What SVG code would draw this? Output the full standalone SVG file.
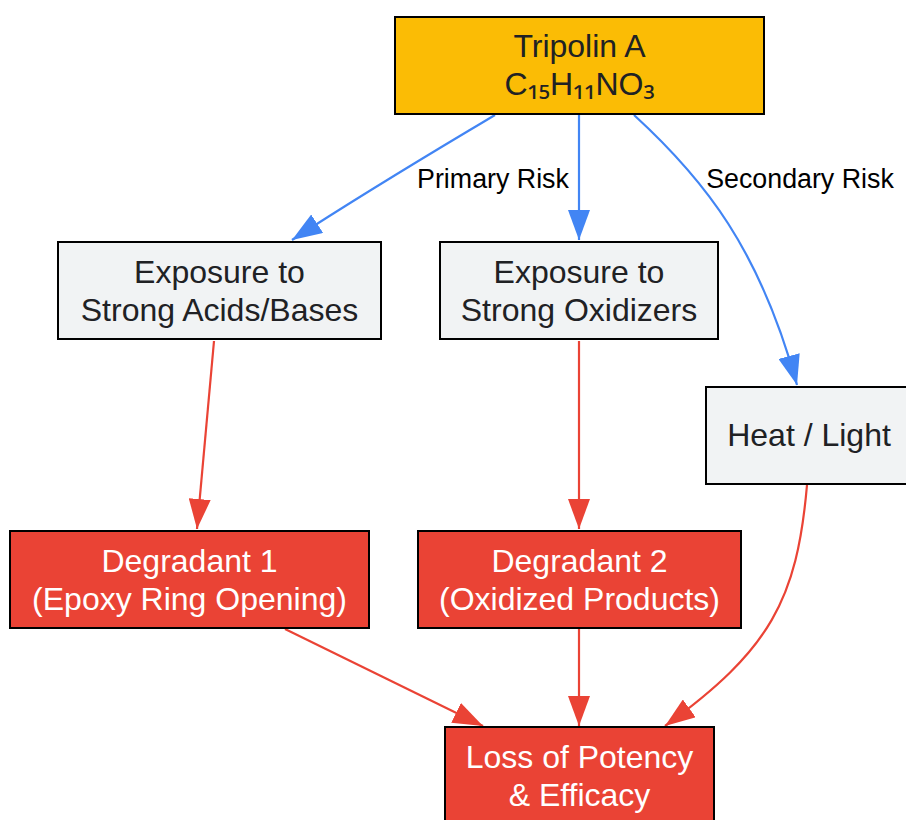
<svg xmlns="http://www.w3.org/2000/svg" width="906" height="820" viewBox="0 0 906 820">
<style>
.n rect{stroke:#000;stroke-width:2}
.n text{font-family:"Liberation Sans",Arial,sans-serif;font-size:32px;text-anchor:middle}
.sub{font-family:"Noto Sans","DejaVu Sans",sans-serif}
.main rect{fill:#FBBC05}
.main text{fill:#202124}
.lt rect{fill:#F1F3F4}
.lt text{fill:#202124}
.rd rect{fill:#EA4335}
.rd text{fill:#fff}
.e{fill:none;stroke-width:2.2}
.b{stroke:#4285F4;marker-end:url(#ab)}
.r{stroke:#EA4335;marker-end:url(#ar)}
.lbl{font-family:"Liberation Sans",Arial,sans-serif;font-size:26.8px;fill:#000;text-anchor:middle}
</style>
<defs>
<marker id="ab" markerUnits="userSpaceOnUse" markerWidth="30" markerHeight="22" refX="30" refY="11" orient="auto"><path d="M0,0 L30,11 L0,22 z" fill="#4285F4"/></marker>
<marker id="ar" markerUnits="userSpaceOnUse" markerWidth="30" markerHeight="22" refX="30" refY="11" orient="auto"><path d="M0,0 L30,11 L0,22 z" fill="#EA4335"/></marker>
</defs>
<rect width="906" height="820" fill="#fff"/>
<g id="edges">
<path class="e b" d="M495,115 C440,148 380,183 292,240"/>
<path class="e b" d="M579,115 L579,240"/>
<path class="e b" d="M634,115 C705,180 760,250 797,385"/>
<path class="e r" d="M214,341 L197,529"/>
<path class="e r" d="M579,341 L579,529"/>
<path class="e r" d="M807,485 C797,600 770,650 665,726"/>
<path class="e r" d="M285,629 L483,726"/>
<path class="e r" d="M579,629 L579,726"/>
<text class="lbl" x="493" y="188">Primary Risk</text>
<text class="lbl" x="800" y="188">Secondary Risk</text>
</g>
<g id="tripolin" class="n main"><rect x="395" y="17" width="369" height="97"/><text x="579.5" y="57">Tripolin A</text><text x="579.5" y="95">C<tspan class="sub">₁₅</tspan>H<tspan class="sub">₁₁</tspan>NO<tspan class="sub">₃</tspan></text></g>
<g id="acids" class="n lt"><rect x="58" y="242" width="323" height="97"/><text x="219.5" y="283">Exposure to</text><text x="219.5" y="321">Strong Acids/Bases</text></g>
<g id="oxidizers" class="n lt"><rect x="440" y="242" width="278" height="97"/><text x="579" y="283">Exposure to</text><text x="579" y="321">Strong Oxidizers</text></g>
<g id="heat" class="n lt"><rect x="706" y="387" width="206" height="97"/><text x="809" y="446">Heat / Light</text></g>
<g id="deg1" class="n rd"><rect x="10" y="531" width="359" height="97"/><text x="189.5" y="572">Degradant 1</text><text x="189.5" y="610">(Epoxy Ring Opening)</text></g>
<g id="deg2" class="n rd"><rect x="418" y="531" width="323" height="97"/><text x="579.5" y="572">Degradant 2</text><text x="579.5" y="610">(Oxidized Products)</text></g>
<g id="loss" class="n rd"><rect x="445" y="727" width="269" height="97"/><text x="579.5" y="768">Loss of Potency</text><text x="579.5" y="806">&amp; Efficacy</text></g>
</svg>
